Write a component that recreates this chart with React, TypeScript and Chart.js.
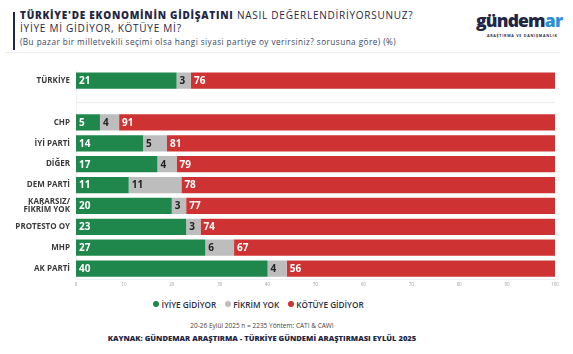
import React, { useEffect, useRef } from "react";
import { Chart, registerables } from "chart.js";

Chart.register(...registerables);

const CATEGORIES: (string | string[])[] = [
  "TÜRKİYE",
  "",
  "CHP",
  "İYİ PARTİ",
  "DİĞER",
  "DEM PARTİ",
  ["KARARSIZ/", "FİKRİM YOK"],
  "PROTESTO OY",
  "MHP",
  "AK PARTİ",
];
const IYIYE: (number | null)[] = [21, null, 5, 14, 17, 11, 20, 23, 27, 40];
const FIKRIM_YOK: (number | null)[] = [3, null, 4, 5, 4, 11, 3, 3, 6, 4];
const KOTUYE: (number | null)[] = [76, null, 91, 81, 79, 78, 77, 74, 67, 56];
const SERIES_NAMES = ["İYİYE GİDİYOR", "FİKRİM YOK", "KÖTÜYE GİDİYOR"];
const COLORS = ["#1f874c", "#bdbdbd", "#cf3232"];
const LABEL_COLORS = ["#ffffff", "#222222", "#ffffff"];
const X_TICKS_MAX = 100;

const FONT = "'Open Sans', 'DejaVu Sans', sans-serif";
const NAVY = "#1f2745";

const valueLabels = {
  id: "valueLabels",
  afterDatasetsDraw(chart: any) {
    const ctx = chart.ctx;
    ctx.save();
    ctx.font = `700 10px ${FONT}`;
    ctx.textBaseline = "middle";
    ctx.textAlign = "left";
    chart.data.datasets.forEach((ds: any, di: number) => {
      const meta = chart.getDatasetMeta(di);
      meta.data.forEach((el: any, i: number) => {
        const v = ds.data[i];
        if (v == null) return;
        const start = Math.min(el.base, el.x);
        ctx.fillStyle = LABEL_COLORS[di];
        ctx.fillText(String(v), start + 3, el.y + 0.5);
      });
    });
    ctx.restore();
  },
};

const separator = {
  id: "separator",
  beforeDatasetsDraw(chart: any) {
    const { ctx, chartArea, scales } = chart;
    const y = scales.y.getPixelForValue(1);
    ctx.save();
    ctx.strokeStyle = "#ececec";
    ctx.lineWidth = 1;
    ctx.beginPath();
    ctx.moveTo(chartArea.left, Math.round(y) + 0.5);
    ctx.lineTo(chartArea.right, Math.round(y) + 0.5);
    ctx.stroke();
    ctx.restore();
  },
};

function BarChart() {
  const ref = useRef<HTMLCanvasElement>(null);
  useEffect(() => {
    if (!ref.current) return;
    const chart = new Chart(ref.current, {
      type: "bar",
      data: {
        labels: CATEGORIES as any,
        datasets: [IYIYE, FIKRIM_YOK, KOTUYE].map((d, i) => ({
          label: SERIES_NAMES[i],
          data: d,
          backgroundColor: COLORS[i],
          borderWidth: 0,
          barPercentage: 0.78,
          categoryPercentage: 1,
        })),
      },
      options: {
        indexAxis: "y",
        animation: false,
        responsive: false,
        maintainAspectRatio: false,
        layout: { padding: { top: 9.5, right: 18, left: 0, bottom: 0 } },
        plugins: {
          legend: { display: false },
          tooltip: { enabled: false },
        },
        scales: {
          x: {
            stacked: true,
            min: 0,
            max: X_TICKS_MAX,
            grid: { display: false, drawTicks: false },
            border: { display: true, color: "#efefef" },
            ticks: {
              stepSize: 10,
              padding: 3,
              color: "#a0a0a0",
              font: { family: FONT, size: 4.5 },
            },
            afterFit(scale: any) {
              scale.height = 12;
            },
          },
          y: {
            stacked: true,
            grid: { display: false, drawTicks: false },
            border: { display: true, color: "#efefef" },
            ticks: {
              padding: 6,
              color: "#3a3a3a",
              autoSkip: false,
              font: { family: FONT, size: 8, weight: "bold", lineHeight: 1.05 },
            },
            afterFit(scale: any) {
              scale.width = 76;
            },
          },
        },
      } as any,
      plugins: [valueLabels, separator],
    });
    return () => chart.destroy();
  }, []);
  return (
    <canvas
      ref={ref}
      width={573}
      height={231}
      style={{ position: "absolute", left: 0, top: 60, width: 573, height: 231 }}
    />
  );
}

function LegendItem({ color, text }: { color: string; text: string }) {
  return (
    <span style={{ display: "inline-flex", alignItems: "center", marginRight: 9 }}>
      <span
        style={{
          width: 6,
          height: 6,
          borderRadius: 3,
          background: color,
          display: "inline-block",
          marginRight: 2,
        }}
      />
      <span>{text}</span>
    </span>
  );
}

export default function App() {
  return (
    <div
      style={{
        position: "relative",
        width: 573,
        height: 354,
        background: "#ffffff",
        overflow: "hidden",
        fontFamily: FONT,
      }}
    >
      <style>{"body{margin:0}"}</style>
      {/* header bar */}
      <div style={{ position: "absolute", left: 13, top: 12, width: 2, height: 38, background: NAVY }} />
      <div
        style={{
          position: "absolute",
          left: 20,
          top: 9,
          fontSize: 10,
          lineHeight: "13px",
          color: NAVY,
          whiteSpace: "nowrap",
          letterSpacing: 0.75,
        }}
      >
        <div>
          <span style={{ fontWeight: 800 }}>TÜRKİYE'DE EKONOMİNİN GİDİŞATINI</span>
          <span style={{ fontWeight: 500 }}> NASIL DEĞERLENDİRİYORSUNUZ?</span>
        </div>
        <div style={{ fontWeight: 500 }}>İYİYE Mİ GİDİYOR, KÖTÜYE Mİ?</div>
        <div style={{ fontSize: 8.2, color: "#3b4463", letterSpacing: 0.45 }}>
          (Bu pazar bir milletvekili seçimi olsa hangi siyasi partiye oy verirsiniz? sorusuna göre) (%)
        </div>
      </div>
      <div style={{ position: "absolute", left: 5, top: 52, width: 555, height: 1, background: "#eeeeee" }} />
      {/* logo */}
      <div
        style={{
          position: "absolute",
          left: 476,
          top: 8,
          fontSize: 17.5,
          fontWeight: 800,
          color: NAVY,
          letterSpacing: -0.8,
          lineHeight: "24px",
        }}
      >
        gündem<span style={{ color: "#2d8fd5" }}>ar</span>
      </div>
      <div
        style={{
          position: "absolute",
          left: 487,
          top: 33,
          fontSize: 3.6,
          fontWeight: 700,
          color: NAVY,
          letterSpacing: 0.75,
          whiteSpace: "nowrap",
        }}
      >
        ARAŞTIRMA VE DANIŞMANLIK
      </div>
      <BarChart />
      {/* legend */}
      <div
        style={{
          position: "absolute",
          left: 0,
          width: 526,
          top: 298,
          textAlign: "center",
          fontSize: 8.2,
          fontWeight: 600,
          color: "#2a2f45",
          whiteSpace: "nowrap",
        }}
      >
        {SERIES_NAMES.map((n, i) => (
          <LegendItem key={n} color={COLORS[i]} text={n} />
        ))}
      </div>
      {/* footer */}
      <div
        style={{
          position: "absolute",
          left: 0,
          width: 524,
          top: 321,
          textAlign: "center",
          fontSize: 6.5,
          color: "#444",
          whiteSpace: "nowrap",
        }}
      >
        20-26 Eylül 2025 n = 2235 Yöntem: CATI &amp; CAWI
      </div>
      <div
        style={{
          position: "absolute",
          left: 0,
          width: 524,
          top: 333,
          textAlign: "center",
          fontSize: 7.6,
          fontWeight: 800,
          color: NAVY,
          whiteSpace: "nowrap",
        }}
      >
        KAYNAK: GÜNDEMAR ARAŞTIRMA - TÜRKİYE GÜNDEMİ ARAŞTIRMASI EYLÜL 2025
      </div>
    </div>
  );
}
